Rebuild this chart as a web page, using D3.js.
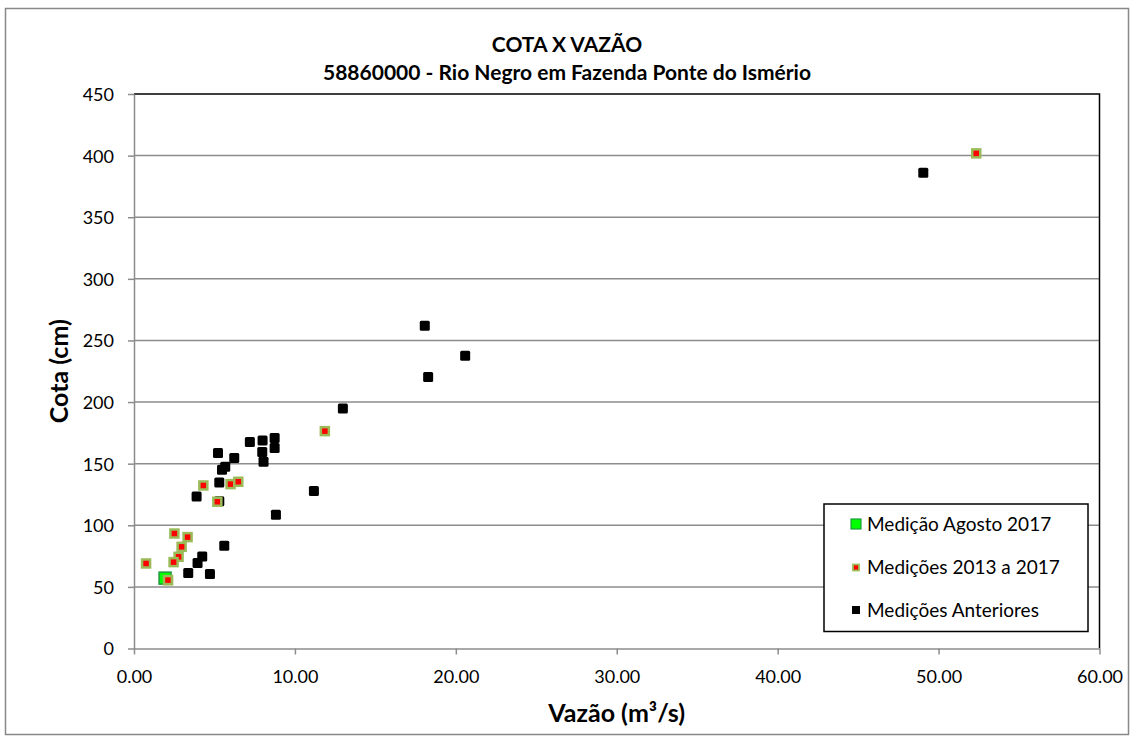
<!DOCTYPE html>
<html>
<head>
<meta charset="utf-8">
<script src="https://cdn.jsdelivr.net/npm/d3@7/dist/d3.min.js"></script>
<style>
  html, body { margin: 0; padding: 0; background: #fff; }
  svg { display: block; font-family: Lato, "Open Sans", sans-serif; }
</style>
</head>
<body>
<svg id="chart" width="1134" height="736"></svg>
<script>
// ---- data ----
const titleLines = ["COTA X VAZÃO", "58860000 - Rio Negro em Fazenda Ponte do Ismério"];
const xTicks = [0, 10, 20, 30, 40, 50, 60];
const yTicks = [0, 50, 100, 150, 200, 250, 300, 350, 400, 450];
const seriesNames = ["Medição Agosto 2017", "Medições 2013 a 2017", "Medições Anteriores"];

// Medições Anteriores (black)
const anterioresQ = [7.2, 7.99, 8.74, 8.74, 7.97, 8.05, 6.23, 5.22, 5.67, 5.47, 5.30, 3.89, 5.30, 11.18, 8.82, 5.61, 4.24, 3.95, 3.37, 4.72, 18.07, 20.58, 18.28, 12.98, 49.05];
const anterioresH = [167.5, 168.8, 170.8, 162.7, 159.4, 151.5, 154.5, 158.6, 147.5, 145.0, 134.7, 123.4, 119.6, 127.8, 108.5, 83.4, 74.7, 69.3, 61.2, 60.4, 261.9, 237.6, 220.3, 194.8, 386.1];

// Medições 2013 a 2017 (red with green border)
const recentesQ = [11.86, 4.31, 6.0, 6.48, 5.18, 2.51, 3.33, 2.96, 2.77, 2.46, 0.75, 2.11, 52.34];
const recentesH = [176.4, 132.3, 133.4, 135.3, 119.1, 93.3, 90.4, 82.5, 74.4, 70.1, 69.0, 55.5, 401.8];

// Medição Agosto 2017 (green)
const agostoQ = [1.93];
const agostoH = [57.1];

// ---- layout ----
const svg = d3.select("#chart");
const W = 1134, H = 736;
const plot = { left: 134, right: 1099.5, top: 94, bottom: 648.5 };

const x = d3.scaleLinear().domain([0, 60]).range([plot.left, plot.right]);
const y = d3.scaleLinear().domain([0, 450]).range([plot.bottom, plot.top]);

// outer border
svg.append("rect").attr("x", 5.5).attr("y", 8.5).attr("width", W - 11).attr("height", H - 10)
  .attr("fill", "#fff").attr("stroke", "#888").attr("stroke-width", 1.5);

// gridlines
svg.append("g").selectAll("line").data(yTicks.filter(d => d > 0 && d < 450)).join("line")
  .attr("x1", plot.left).attr("x2", plot.right)
  .attr("y1", d => y(d)).attr("y2", d => y(d))
  .attr("stroke", "#8c8c8c").attr("stroke-width", 1.5);

// plot border (top & right black)
svg.append("path")
  .attr("d", `M${plot.left},${y(450)}H${plot.right}V${plot.bottom}`)
  .attr("fill", "none").attr("stroke", "#000").attr("stroke-width", 1.5);

// axes
const xAxis = d3.axisBottom(x).tickValues(xTicks).tickFormat(d3.format(".2f")).tickSize(6).tickSizeOuter(0);
const yAxis = d3.axisLeft(y).tickValues(yTicks).tickFormat(d3.format("d")).tickSize(6).tickSizeOuter(0);

const gx = svg.append("g").attr("transform", `translate(0,${plot.bottom})`).call(xAxis);
gx.select(".domain").attr("stroke", "#8c8c8c").attr("stroke-width", 1.5);
gx.selectAll(".tick line").attr("stroke", "#8c8c8c").attr("stroke-width", 1.5);
gx.selectAll(".tick text").attr("font-size", 18).attr("font-family", "Lato, sans-serif")
  .attr("fill", "#000").attr("dy", 0).attr("y", 34.5);

const gy = svg.append("g").attr("transform", `translate(${plot.left},0)`).call(yAxis);
gy.select(".domain").attr("stroke", "#8c8c8c").attr("stroke-width", 1.5);
gy.selectAll(".tick line").attr("stroke", "#8c8c8c").attr("stroke-width", 1.5);
gy.selectAll(".tick text").attr("font-size", 18).attr("font-family", "Lato, sans-serif")
  .attr("fill", "#000").attr("x", -20).attr("dy", "0.36em");

// titles
svg.append("text").attr("x", 567).attr("y", 52).attr("text-anchor", "middle")
  .attr("font-size", 21).attr("font-weight", "bold").text(titleLines[0]);
svg.append("text").attr("x", 567).attr("y", 80).attr("text-anchor", "middle")
  .attr("font-size", 21).attr("font-weight", "bold").text(titleLines[1]);

svg.append("text").attr("x", (plot.left + plot.right) / 2).attr("y", 722).attr("text-anchor", "middle")
  .attr("font-size", 25).attr("font-weight", "bold").text("Vazão (m³/s)");
svg.append("text").attr("transform", `translate(68,${(plot.top + plot.bottom) / 2}) rotate(-90)`)
  .attr("text-anchor", "middle").attr("font-size", 25).attr("font-weight", "bold").text("Cota (cm)");

// ---- marks ----
const ant = anterioresQ.map((q, i) => ({ q, h: anterioresH[i] }));
const rec = recentesQ.map((q, i) => ({ q, h: recentesH[i] }));
const ago = agostoQ.map((q, i) => ({ q, h: agostoH[i] }));

const sA = 10;
svg.append("g").selectAll("rect").data(ant).join("rect")
  .attr("x", d => x(d.q) - sA / 2).attr("y", d => y(d.h) - sA / 2)
  .attr("width", sA).attr("height", sA).attr("rx", 1.5)
  .attr("fill", "#000");

const sR = 8;
svg.append("g").selectAll("rect").data(rec).join("rect")
  .attr("x", d => x(d.q) - sR / 2).attr("y", d => y(d.h) - sR / 2)
  .attr("width", sR).attr("height", sR)
  .attr("fill", "#ff0000").attr("stroke", "#9bbb59").attr("stroke-width", 2.5);

const sG = 12;
svg.append("g").selectAll("rect").data(ago).join("rect")
  .attr("x", d => x(d.q) - sG / 2).attr("y", d => y(d.h) - sG / 2)
  .attr("width", sG).attr("height", sG)
  .attr("fill", "#00ff00").attr("stroke", "#1e9c3c").attr("stroke-width", 1.5);

// the recent point overlapping the green marker is drawn on top of it
svg.append("g").selectAll("rect").data(rec.filter(d => Math.abs(d.q - agostoQ[0]) < 0.5)).join("rect")
  .attr("x", d => x(d.q) - sR / 2).attr("y", d => y(d.h) - sR / 2)
  .attr("width", sR).attr("height", sR)
  .attr("fill", "#ff0000").attr("stroke", "#9bbb59").attr("stroke-width", 2.5);

// ---- legend ----
const lg = svg.append("g");
lg.append("rect").attr("x", 824).attr("y", 504).attr("width", 264).attr("height", 127.5)
  .attr("fill", "#fff").attr("stroke", "#000").attr("stroke-width", 1.5);
const rowsY = [524, 567.5, 610];
seriesNames.forEach((name, i) => {
  const cy = rowsY[i];
  if (i === 0) {
    lg.append("rect").attr("x", 851).attr("y", cy - 5).attr("width", 10).attr("height", 10)
      .attr("fill", "#00ff00").attr("stroke", "#1e9c3c").attr("stroke-width", 1.2);
  } else if (i === 1) {
    lg.append("rect").attr("x", 853).attr("y", cy - 3).attr("width", 6).attr("height", 6)
      .attr("fill", "#ff0000").attr("stroke", "#9bbb59").attr("stroke-width", 1.8);
  } else {
    lg.append("rect").attr("x", 852).attr("y", cy - 4).attr("width", 8).attr("height", 8)
      .attr("fill", "#000");
  }
  lg.append("text").attr("x", 867).attr("y", cy).attr("dy", "0.35em")
    .attr("font-size", 19).attr("fill", "#000").text(name);
});
</script>
</body>
</html>
